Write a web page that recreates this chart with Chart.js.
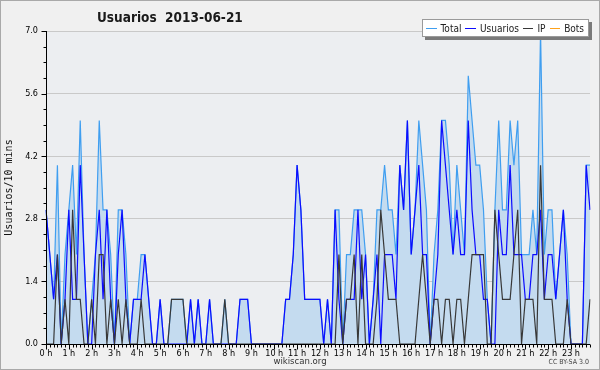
<!DOCTYPE html>
<html>
<head>
<meta charset="utf-8">
<script src="https://cdn.jsdelivr.net/npm/chart.js@4.4.1/dist/chart.umd.min.js"></script>
<style>
  html, body { margin: 0; padding: 0; background: #f0f0f0; }
  #wrap { position: relative; width: 600px; height: 370px; background: #f0f0f0; overflow: hidden; }
  #c { position: absolute; left: 0; top: 0; }
  #frame { position: absolute; left: 0; top: 0; width: 600px; height: 370px; box-sizing: border-box; border: 1px solid #a9a9a9; pointer-events: none; }
  #title { position: absolute; left: 97px; top: 9px; font: bold 13.5px "DejaVu Sans Condensed", "DejaVu Sans", sans-serif; line-height: 16px; color: #1a1a1a; white-space: pre; }
  #legend { position: absolute; left: 422px; top: 19px; width: 167px; height: 18px; box-sizing: border-box; background: #fff; border: 1px solid #9a9a9a; box-shadow: 3px 3px 0 #7a7a7a; display: flex; align-items: center; padding-left: 3px; font: 10px "DejaVu Sans Condensed", "DejaVu Sans", sans-serif; color: #222; }
  #legend .sw { display: inline-block; width: 12px; height: 1px; margin-right: 4px; }
  #legend .lb { margin-right: 4px; white-space: nowrap; }
  #site { position: absolute; left: 0; width: 600px; top: 355px; text-align: center; font: 9.5px "DejaVu Sans Condensed", "DejaVu Sans", sans-serif; color: #333; line-height: 12px; }
  #lic { position: absolute; right: 11px; top: 358px; font: 7px "DejaVu Sans Condensed", "DejaVu Sans", sans-serif; color: #444; line-height: 9px; }
</style>
</head>
<body>
<div id="wrap">
  <canvas id="c" width="600" height="370"></canvas>
  <div id="title">Usuarios  2013-06-21</div>
  <div id="legend"></div>
  <div id="site">wikiscan.org</div>
  <div id="lic">CC BY-SA 3.0</div>
  <div id="frame"></div>
</div>
<script>
// ---- data (10-minute buckets, 144 per day) ----
const hourLabels = ['0 h','1 h','2 h','3 h','4 h','5 h','6 h','7 h','8 h','9 h','10 h','11 h',
                    '12 h','13 h','14 h','15 h','16 h','17 h','18 h','19 h','20 h','21 h','22 h','23 h'];
const yTickLabels = ['0.0','1.4','2.8','4.2','5.6','7.0'];

const totalValues = [
  3,2,1,4,0,2,3,4,2,5,
  2,0,1,2,5,3,3,2,0,3,
  3,2,0,1,1,2,2,1,0,0,
  1,0,0,1,1,1,1,0,1,0,
  1,0,0,1,0,0,0,1,0,0,
  0,1,1,1,0,0,0,0,0,0,
  0,0,0,1,1,2,4,3,1,1,
  1,1,1,0,1,0,3,3,0,2,
  2,3,3,3,2,0,1,3,3,4,
  3,3,2,4,3,5,2,3,5,4,
  3,0,2,3,5,5,4,2,4,3,
  2,6,5,4,4,3,1,0,3,5,
  3,3,5,4,5,2,2,2,3,2,
  7,2,3,3,1,2,3,2,0,0,
  0,0,4,4
];
const userValues = [
  3,2,1,2,0,1,3,1,1,4,
  2,0,0,2,3,1,3,1,0,2,
  3,1,0,1,1,1,2,1,0,0,
  1,0,0,0,0,0,0,0,1,0,
  1,0,0,1,0,0,0,0,0,0,
  0,1,1,1,0,0,0,0,0,0,
  0,0,0,1,1,2,4,3,1,1,
  1,1,1,0,1,0,3,1,0,1,
  1,1,3,1,2,0,1,2,0,2,
  2,2,1,4,3,5,2,3,4,2,
  2,0,1,2,5,4,3,2,3,2,
  2,5,3,2,2,1,1,0,0,3,
  2,2,4,2,2,2,1,1,2,2,
  3,1,2,2,1,2,3,1,0,0,
  0,0,4,3
];
const ipValues = [
  0,0,0,2,0,1,0,3,1,1,
  0,0,1,0,2,2,0,1,0,1,
  0,1,0,0,0,1,0,0,0,0,
  0,0,0,1,1,1,1,0,0,0,
  0,0,0,0,0,0,0,1,0,0,
  0,0,0,0,0,0,0,0,0,0,
  0,0,0,0,0,0,0,0,0,0,
  0,0,0,0,0,0,0,2,0,1,
  1,2,0,2,0,0,0,1,3,2,
  1,1,1,0,0,0,0,0,1,2,
  1,0,1,1,0,1,1,0,1,1,
  0,1,2,2,2,2,0,0,3,2,
  1,1,1,2,3,0,1,1,1,0,
  4,1,1,1,0,0,0,1,0,0,
  0,0,0,1
];
const botValues = [
  0,0,0,0,0,0,0,0,0,0, 0,0,0,0,0,0,0,0,0,0, 0,0,0,0,0,0,0,0,0,0,
  0,0,0,0,0,0,0,0,0,0, 0,0,0,0,0,0,0,0,0,0, 0,0,0,0,0,0,0,0,0,0,
  0,0,0,0,0,0,0,0,0,0, 0,0,0,0,0,0,0,0,0,0, 0,0,0,0,0,0,0,0,0,0,
  0,0,0,0,0,0,0,0,0,0, 0,0,0,0,0,0,0,0,0,0, 0,0,0,0,0,0,0,0,0,0,
  0,0,0,0,0,0,0,0,0,0, 0,0,0,0,0,0,0,0,0,0, 0,0,0,0
];

// category labels: one per 10-minute slot
const slots = [];
for (let h = 0; h < 24; h++) for (let m = 0; m < 60; m += 10)
  slots.push(String(h).padStart(2,'0') + ':' + String(m).padStart(2,'0'));

const frame = {
  id: 'frame',
  beforeDraw(chart) {
    const { ctx, chartArea: a } = chart;
    ctx.save();
    ctx.fillStyle = '#eceef1';
    ctx.fillRect(a.left, a.top, a.right - a.left, a.bottom - a.top);
    ctx.restore();
  },
  afterDatasetsDraw(chart) {
    const { ctx, chartArea: a, scales: { x, y } } = chart;
    ctx.save();
    ctx.strokeStyle = '#000';
    ctx.lineWidth = 1;
    ctx.beginPath();
    const ax = Math.round(a.left) + 0.5, ay = Math.round(a.bottom) + 0.5;
    ctx.moveTo(ax, a.top); ctx.lineTo(ax, ay);
    ctx.lineTo(a.right, ay);
    for (let k = 0; k <= 20; k++) {
      const py = Math.round(y.getPixelForValue(k * 0.35)) + 0.5;
      const len = (k % 4 === 0) ? 5 : 3;
      ctx.moveTo(ax - len, py); ctx.lineTo(ax, py);
    }
    for (let i = 0; i < slots.length; i++) {
      const px = Math.round(x.getPixelForValue(i)) + 0.5;
      const len = (i % 6 === 0) ? 5 : 3;
      ctx.moveTo(px, ay); ctx.lineTo(px, ay + len);
    }
    ctx.stroke();
    ctx.restore();
  }
};

const tickFont = { family: '"DejaVu Sans Condensed", "DejaVu Sans", sans-serif', size: 9 };

const chart = new Chart(document.getElementById('c'), {
  type: 'line',
  data: {
    labels: slots,
    datasets: [
      { label: 'Total', data: totalValues, borderColor: '#3f9ef0', backgroundColor: '#c4dbef',
        fill: 'origin', borderWidth: 1.2, pointRadius: 0, tension: 0, order: 2 },
      { label: 'Usuarios', data: userValues, borderColor: '#0c0cff', borderWidth: 1.2,
        pointRadius: 0, tension: 0, fill: false, order: 1 },
      { label: 'IP', data: ipValues, borderColor: '#383838', borderWidth: 1.2,
        pointRadius: 0, tension: 0, fill: false, order: 0 },
      { label: 'Bots', data: botValues, borderColor: '#ffa21a', borderWidth: 1.2,
        pointRadius: 0, tension: 0, fill: false, order: 3 }
    ]
  },
  options: {
    responsive: false,
    animation: false,
    devicePixelRatio: 1,
    layout: { padding: { left: 0, right: 10, top: 31, bottom: 0 } },
    plugins: { legend: { display: false }, title: { display: false }, tooltip: { enabled: false } },
    scales: {
      x: {
        type: 'category',
        offset: false,
        grid: { display: false, drawTicks: false },
        border: { display: false },
        ticks: {
          autoSkip: false, maxRotation: 0, minRotation: 0, padding: 4,
          color: '#000', font: tickFont,
          callback: (v, i) => (i % 6 === 0 ? hourLabels[i / 6] : '')
        },
        afterFit: s => { s.height = 26; }
      },
      y: {
        min: 0, max: 7,
        grid: { color: '#c9c9c9', lineWidth: 1, drawTicks: false },
        border: { display: false },
        ticks: {
          stepSize: 1.4, padding: 8, color: '#000', font: tickFont,
          callback: (v, i) => yTickLabels[i]
        },
        title: {
          display: true, text: 'Usuarios/10 mins', color: '#111',
          font: { family: '"DejaVu Sans Mono", monospace', size: 10 },
          padding: { top: 3, bottom: 0 }
        },
        afterFit: s => { s.width = 46; }
      }
    }
  },
  plugins: [frame]
});

const lg = document.getElementById('legend');
chart.data.datasets.forEach(ds => {
  const sw = document.createElement('span');
  sw.className = 'sw'; sw.style.background = ds.borderColor;
  const lb = document.createElement('span');
  lb.className = 'lb'; lb.textContent = ds.label;
  lg.appendChild(sw); lg.appendChild(lb);
});
</script>
</body>
</html>
